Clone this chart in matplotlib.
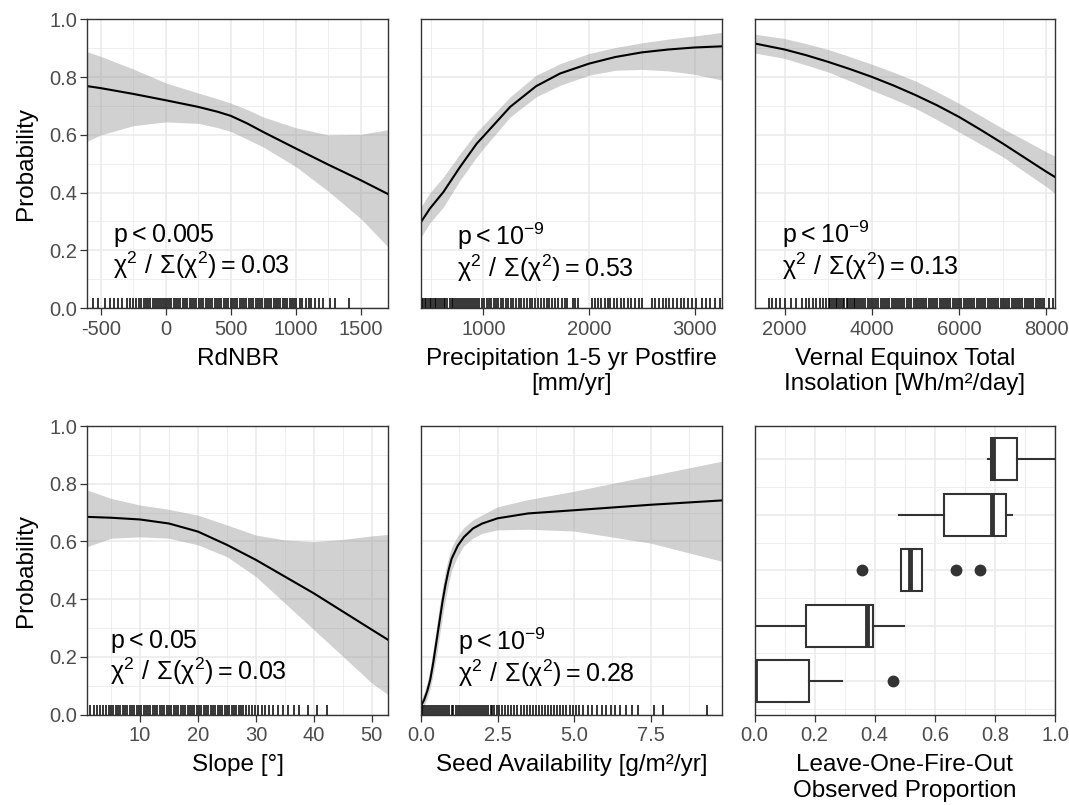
import matplotlib
matplotlib.use("Agg")
import matplotlib.pyplot as plt
from matplotlib.ticker import MultipleLocator, FormatStrFormatter

plt.rcParams['font.family'] = ['Liberation Sans', 'DejaVu Sans']
plt.rcParams['mathtext.default'] = 'regular'
plt.rcParams['axes.unicode_minus'] = False

# ---- data ----
rdnbr_x = [-605, -500, -250, 0, 250, 400, 500, 625, 750, 1000, 1250, 1500, 1710]
rdnbr_y = [0.769, 0.762, 0.742, 0.720, 0.697, 0.680, 0.666, 0.640, 0.610, 0.553, 0.497, 0.443, 0.395]
rdnbr_hi = [0.888, 0.872, 0.828, 0.780, 0.745, 0.725, 0.710, 0.688, 0.662, 0.625, 0.600, 0.602, 0.618]
rdnbr_lo = [0.578, 0.600, 0.632, 0.645, 0.640, 0.625, 0.612, 0.585, 0.558, 0.490, 0.405, 0.310, 0.212]
rdnbr_rug = [-560, -520, -470, -430, -400, -370, -340, -300, -275, -250, -230, -210, -190,
             -170, -150, -135, -120, -100, -85, -70, -55, -40, -25, -10, 8, 25, 42, 60, 78,
             95, 112, 130, 148, 165, 182, 200, 218, 235, 252, 270, 288, 305, 322, 340, 358,
             375, 392, 410, 428, 445, 462, 480, 498, 515, 532, 550, 568, 585, 602, 620, 638,
             655, 672, 690, 708, 725, 742, 760, 778, 795, 812, 830, 848, 865, 882, 900, 918,
             935, 952, 970, 988, 1005, 1030, 1050, 1075, 1100, 1120, 1150, 1180, 1210, 1260,
             1300, 1410]

precip_x = [409, 494, 621, 779, 937, 1000, 1253, 1500, 1727, 2000, 2250, 2500, 2750, 3000, 3260]
precip_y = [0.298, 0.345, 0.402, 0.489, 0.570, 0.595, 0.697, 0.769, 0.813, 0.847, 0.870, 0.886, 0.896, 0.903, 0.907]
precip_hi = [0.350, 0.400, 0.454, 0.535, 0.610, 0.634, 0.732, 0.807, 0.847, 0.882, 0.903, 0.919, 0.932, 0.943, 0.955]
precip_lo = [0.246, 0.295, 0.350, 0.443, 0.524, 0.553, 0.662, 0.732, 0.772, 0.807, 0.824, 0.827, 0.822, 0.810, 0.790]
precip_rug = [415, 430, 445, 460, 475, 490, 505, 520, 540, 555, 570, 590, 610, 625, 640, 660,
              680, 700, 715, 730, 750, 770, 790, 810, 825, 845, 865, 880, 900, 920, 940, 960,
              985, 1005, 1030, 1050, 1075, 1100, 1120, 1140, 1165, 1190, 1210, 1235, 1260,
              1285, 1310, 1335, 1360, 1385, 1410, 1440, 1465, 1490, 1520, 1545, 1570, 1600,
              1625, 1650, 1680, 1710, 1740, 1770, 1790, 1850, 1870, 1900, 2030, 2060, 2090,
              2110, 2150, 2180, 2200, 2240, 2270, 2300, 2330, 2370, 2400, 2440, 2470, 2500,
              2600, 2630, 2660, 2700, 2730, 2760, 2800, 2830, 2870, 2900, 2940, 2980, 3010,
              3070, 3110, 3150, 3190, 3240]

insol_x = [1310, 2000, 2500, 3000, 3500, 4000, 4500, 5000, 5500, 6000, 6500, 7000, 7500, 8000, 8195]
insol_y = [0.917, 0.896, 0.876, 0.853, 0.828, 0.801, 0.771, 0.738, 0.702, 0.662, 0.617, 0.570, 0.521, 0.472, 0.454]
insol_hi = [0.949, 0.934, 0.916, 0.896, 0.871, 0.845, 0.817, 0.787, 0.749, 0.709, 0.666, 0.622, 0.582, 0.541, 0.526]
insol_lo = [0.884, 0.865, 0.842, 0.818, 0.787, 0.755, 0.724, 0.692, 0.652, 0.610, 0.567, 0.524, 0.472, 0.420, 0.397]
insol_rug = [1640, 1700, 1800, 1900, 2000, 2150, 2250, 2400, 2480, 2560, 2640, 2720, 2800,
             2880, 2940, 3010, 3050, 3090, 3130, 3170, 3210, 3250, 3290, 3330, 3370, 3420,
             3460, 3500, 3540, 3580, 3620, 3660, 3700, 3750, 3800, 3850, 3900, 3950, 4000,
             4050, 4100, 4150, 4200, 4250, 4300, 4345, 4400, 4450, 4495, 4550, 4600, 4650,
             4700, 4745, 4800, 4850, 4900, 4955, 5000, 5050, 5100, 5145, 5200, 5250, 5300,
             5350, 5400, 5455, 5500, 5550, 5600, 5645, 5700, 5750, 5800, 5850, 5900, 5955,
             6000, 6050, 6100, 6150, 6200, 6250, 6300, 6345, 6400, 6450, 6500, 6550, 6600,
             6655, 6700, 6750, 6800, 6850, 6900, 6950, 7000, 7050, 7100, 7150, 7200, 7255,
             7300, 7350, 7400, 7450, 7500, 7550, 7600, 7650, 7700, 7750, 7800, 7850, 7900,
             7950, 8050, 8150]

slope_x = [0.9, 5, 10, 15, 20, 25, 30, 35, 40, 45, 50, 52.8]
slope_y = [0.685, 0.682, 0.676, 0.662, 0.634, 0.588, 0.536, 0.478, 0.420, 0.357, 0.294, 0.259]
slope_hi = [0.778, 0.749, 0.726, 0.711, 0.691, 0.657, 0.622, 0.605, 0.599, 0.607, 0.619, 0.624]
slope_lo = [0.582, 0.611, 0.616, 0.611, 0.588, 0.547, 0.478, 0.386, 0.294, 0.202, 0.109, 0.069]
slope_rug = [1.4, 2.0, 2.6, 3.1, 3.6, 4.1, 4.6, 5.0, 5.4, 5.8, 6.2, 6.6, 7.0, 7.4, 7.8, 8.2,
             8.6, 9.0, 9.4, 9.8, 10.2, 10.6, 11.0, 11.4, 11.8, 12.2, 12.6, 13.0, 13.4, 13.8,
             14.2, 14.6, 15.0, 15.4, 15.8, 16.2, 16.6, 17.0, 17.4, 17.8, 18.2, 18.6, 19.0,
             19.4, 19.8, 20.2, 20.6, 21.0, 21.4, 21.8, 22.2, 22.6, 23.0, 23.4, 23.8, 24.2,
             24.6, 25.0, 25.4, 25.8, 26.2, 26.6, 27.0, 27.4, 27.8, 28.3, 28.8, 29.3, 29.8,
             30.4, 31.0, 31.6, 32.3, 33.0, 33.8, 34.6, 35.5, 36.5, 37.5, 39.0, 40.5, 42.3]

seed_x = [0, 0.1, 0.2, 0.3, 0.4, 0.5, 0.6, 0.7, 0.8, 0.9, 1.0, 1.2, 1.4, 1.7, 2.0, 2.5, 3.5, 5.0, 7.5, 9.83]
seed_y = [0.03, 0.05, 0.08, 0.12, 0.18, 0.25, 0.32, 0.39, 0.45, 0.50, 0.54, 0.585, 0.615, 0.645, 0.662, 0.68, 0.697, 0.708, 0.727, 0.742]
seed_hi = [0.05, 0.075, 0.11, 0.16, 0.23, 0.30, 0.375, 0.44, 0.50, 0.545, 0.58, 0.62, 0.648, 0.675, 0.692, 0.72, 0.745, 0.774, 0.828, 0.878]
seed_lo = [0.015, 0.03, 0.055, 0.09, 0.14, 0.20, 0.27, 0.34, 0.40, 0.455, 0.50, 0.55, 0.585, 0.612, 0.628, 0.64, 0.642, 0.636, 0.594, 0.531]
seed_rug = [0.02, 0.08, 0.14, 0.2, 0.27, 0.33, 0.4, 0.46, 0.53, 0.6, 0.66, 0.73, 0.8, 0.86,
            0.93, 1.0, 1.06, 1.13, 1.2, 1.27, 1.33, 1.4, 1.47, 1.53, 1.6, 1.67, 1.73, 1.8,
            1.87, 1.93, 2.0, 2.07, 2.13, 2.2, 2.27, 2.33, 2.4, 2.47, 2.55, 2.65, 2.75, 2.85,
            2.95, 3.05, 3.15, 3.25, 3.35, 3.45, 3.55, 3.65, 3.75, 3.85, 3.95, 4.05, 4.15,
            4.25, 4.35, 4.45, 4.55, 4.65, 4.75, 4.85, 4.95, 5.05, 5.15, 5.3, 5.45, 5.6,
            5.75, 5.9, 6.05, 6.2, 6.35, 6.5, 6.7, 6.9, 7.1, 7.6, 7.9, 9.35]

# leave-one-fire-out boxplots, bottom to top
box_q1 = [0.0, 0.172, 0.487, 0.630, 0.786]
box_med = [0.0, 0.376, 0.518, 0.791, 0.793]
box_q3 = [0.181, 0.393, 0.557, 0.836, 0.875]
box_lo = [0.0, 0.0, 0.487, 0.482, 0.778]
box_hi = [0.292, 0.498, 0.557, 0.856, 1.0]
box_fliers = [[0.461], [], [0.358, 0.669, 0.750], [], []]

W, H = 1069, 805
TICK_FS = 14.5
TITLE_FS = 17.5
NOTE_FS = 18
fig = plt.figure(figsize=(W / 100, H / 100), dpi=100)


def px_box(left, top, right, bottom):
    return [left / W, 1 - bottom / H, (right - left) / W, (bottom - top) / H]


def style_axes(ax, xmaj, xmin, ylabels):
    ax.set_axisbelow(True)
    ax.xaxis.set_major_locator(MultipleLocator(xmaj))
    ax.xaxis.set_minor_locator(MultipleLocator(xmin))
    ax.grid(which='major', color='#EBEBEB', lw=1.2)
    ax.grid(which='minor', color='#EBEBEB', lw=0.6)
    for s in ax.spines.values():
        s.set_color('#333333')
        s.set_linewidth(1.0)
    ax.tick_params(which='major', length=5, width=0.9, color='#333333',
                   labelsize=TICK_FS, labelcolor='#4D4D4D')
    ax.tick_params(axis='x', which='major', pad=3.5)
    ax.tick_params(axis='y', which='major', pad=2)
    ax.tick_params(which='minor', length=0)
    if not ylabels:
        ax.tick_params(axis='y', which='both', length=0, labelleft=False)


def smooth_panel(pos, x, y, lo, hi, rug, xmaj, xmin, xlabel, line1, line2,
                 tx, ty1, ty2, ylabels=False, fmt=None):
    ax = fig.add_axes(px_box(*pos))
    ax.fill_between(x, lo, hi, color='#999999', alpha=0.45, lw=0)
    ax.plot(x, y, color='black', lw=1.5)
    ax.vlines(rug, 0, 0.034, transform=ax.get_xaxis_transform(),
              color='black', alpha=0.85, lw=1.3)
    ax.set_xlim(x[0], x[-1])
    ax.set_ylim(0, 1)
    ax.yaxis.set_major_locator(MultipleLocator(0.2))
    ax.yaxis.set_minor_locator(MultipleLocator(0.1))
    ax.yaxis.set_major_formatter(FormatStrFormatter('%.1f'))
    style_axes(ax, xmaj, xmin, ylabels)
    if fmt:
        ax.xaxis.set_major_formatter(FormatStrFormatter(fmt))
    ax.set_xlabel(xlabel, fontsize=TITLE_FS, labelpad=6.5)
    if ylabels:
        ax.set_ylabel('Probability', fontsize=TITLE_FS, labelpad=9)
    ax.text(tx, ty1, line1, transform=ax.transAxes, fontsize=NOTE_FS, va='baseline')
    ax.text(tx, ty2, line2, transform=ax.transAxes, fontsize=NOTE_FS, va='baseline')
    return ax


chi = r'$χ^2\ /\ Σ(χ^2) = %s$'
p9 = r'$p < 10^{-9}$'

smooth_panel((87.3, 19.5, 388, 308), rdnbr_x, rdnbr_y, rdnbr_lo, rdnbr_hi, rdnbr_rug,
             500, 250, 'RdNBR', r'$p < 0.005$', chi % '0.03', 0.087, 0.23, 0.118,
             ylabels=True)
smooth_panel((421, 19.5, 722, 308), precip_x, precip_y, precip_lo, precip_hi, precip_rug,
             1000, 500, 'Precipitation 1-5 yr Postfire\n[mm/yr]', p9, chi % '0.53',
             0.119, 0.218, 0.108)
smooth_panel((754.5, 19.5, 1055, 308), insol_x, insol_y, insol_lo, insol_hi, insol_rug,
             2000, 1000, 'Vernal Equinox Total\nInsolation [Wh/m²/day]', p9, chi % '0.13',
             0.093, 0.225, 0.114)
smooth_panel((87.3, 426, 388, 714.5), slope_x, slope_y, slope_lo, slope_hi, slope_rug,
             10, 5, 'Slope [°]', r'$p < 0.05$', chi % '0.03', 0.076, 0.23, 0.121,
             ylabels=True)
smooth_panel((421, 426, 722, 714.5), seed_x, seed_y, seed_lo, seed_hi, seed_rug,
             2.5, 1.25, 'Seed Availability [g/m²/yr]', p9, chi % '0.28',
             0.123, 0.222, 0.112, fmt='%.1f')

# boxplot panel
ax6 = fig.add_axes(px_box(754.5, 426, 1055, 714.5))
stats = []
for i in range(len(box_med)):
    stats.append(dict(med=box_med[i], q1=box_q1[i], q3=box_q3[i],
                      whislo=box_lo[i], whishi=box_hi[i], fliers=box_fliers[i]))
ax6.bxp(stats, positions=[1, 2, 3, 4, 5], widths=0.75, orientation='horizontal',
        showcaps=False, patch_artist=True,
        boxprops=dict(facecolor='white', edgecolor='#333333', lw=1.5),
        whiskerprops=dict(color='#333333', lw=1.5),
        medianprops=dict(color='#333333', lw=3.5, solid_capstyle='butt'),
        flierprops=dict(marker='o', markerfacecolor='#333333',
                        markeredgecolor='#333333', markersize=7.5))
ax6.set_xlim(0, 1)
ax6.set_ylim(0.4, 5.6)
ax6.set_yticks([1, 2, 3, 4, 5])
ax6.set_yticks([0.5, 1.5, 2.5, 3.5, 4.5], minor=True)
style_axes(ax6, 0.2, 0.1, False)
ax6.xaxis.set_major_formatter(FormatStrFormatter('%.1f'))
ax6.set_xlabel('Leave-One-Fire-Out\nObserved Proportion', fontsize=TITLE_FS, labelpad=6.5)

fig.savefig('out.png', dpi=100)
